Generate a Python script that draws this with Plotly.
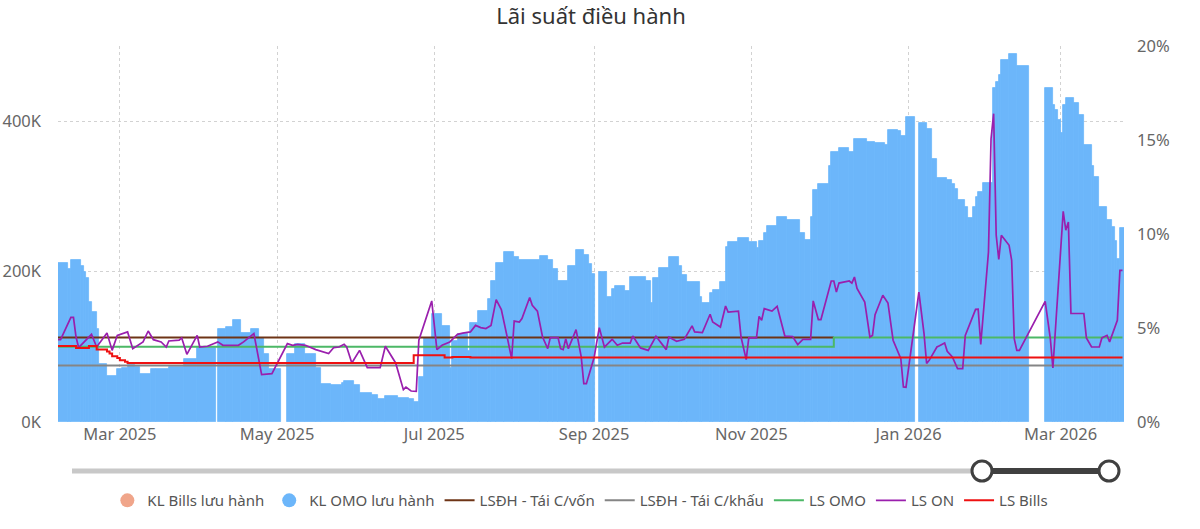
import plotly.graph_objects as go
import pandas as pd

# ---------------- data ----------------
# KL OMO lưu hành (shown as K) — step segments: start date, value (None = no data)
omo_kl_start = [
    "2025-02-05", "2025-02-09", "2025-02-10", "2025-02-14", "2025-02-15", "2025-02-16", "2025-02-17",
    "2025-02-18", "2025-02-20", "2025-02-21", "2025-02-24", "2025-02-28", "2025-03-02", "2025-03-04",
    "2025-03-07", "2025-03-09", "2025-03-13", "2025-03-15", "2025-03-20", "2025-03-26", "2025-03-31",
    "2025-04-07 06:00", "2025-04-08", "2025-04-11", "2025-04-14", "2025-04-17", "2025-04-21", "2025-04-24",
    "2025-04-26", "2025-04-28", "2025-05-02 12:00", "2025-05-04 18:00", "2025-05-08", "2025-05-12",
    "2025-05-16", "2025-05-18", "2025-05-22", "2025-05-26", "2025-05-27", "2025-05-31", "2025-06-02",
    "2025-06-07", "2025-06-09", "2025-06-12", "2025-06-17", "2025-06-21", "2025-06-23", "2025-06-25",
    "2025-06-27", "2025-06-30", "2025-07-04", "2025-07-07", "2025-07-08", "2025-07-10", "2025-07-14",
    "2025-07-15", "2025-07-18", "2025-07-22", "2025-07-23", "2025-07-25", "2025-07-28", "2025-08-01",
    "2025-08-03", "2025-08-11", "2025-08-14", "2025-08-16", "2025-08-18", "2025-08-22", "2025-08-25",
    "2025-08-28", "2025-08-30", "2025-08-31", "2025-09-01 12:00", "2025-09-02 20:00", "2025-09-06",
    "2025-09-08", "2025-09-09", "2025-09-13", "2025-09-15", "2025-09-21", "2025-09-23", "2025-09-24",
    "2025-09-26", "2025-09-30", "2025-10-04", "2025-10-05", "2025-10-07", "2025-10-12", "2025-10-13",
    "2025-10-16", "2025-10-17", "2025-10-20", "2025-10-22", "2025-10-23", "2025-10-27", "2025-10-31",
    "2025-11-03", "2025-11-04", "2025-11-06", "2025-11-07", "2025-11-11", "2025-11-15", "2025-11-20",
    "2025-11-22", "2025-11-24", "2025-11-25", "2025-11-27", "2025-12-01", "2025-12-02", "2025-12-05",
    "2025-12-09", "2025-12-11", "2025-12-16", "2025-12-19", "2025-12-23", "2025-12-24", "2025-12-28",
    "2025-12-29", "2025-12-31", "2026-01-03 10:00", "2026-01-04 22:00", "2026-01-08", "2026-01-10",
    "2026-01-12", "2026-01-16", "2026-01-18", "2026-01-19", "2026-01-20", "2026-01-23", "2026-01-24",
    "2026-01-26", "2026-01-27", "2026-01-28", "2026-01-30", "2026-02-02 18:00", "2026-02-04", "2026-02-05",
    "2026-02-06", "2026-02-09", "2026-02-12", "2026-02-16 14:00", "2026-02-23", "2026-02-26", "2026-02-27",
    "2026-02-28", "2026-03-01", "2026-03-02", "2026-03-03", "2026-03-06", "2026-03-08", "2026-03-10",
    "2026-03-13", "2026-03-14", "2026-03-16", "2026-03-19", "2026-03-21", "2026-03-22", "2026-03-23",
    "2026-03-24",
]
omo_kl_end = "2026-03-26"
omo_kl_val = [
    211, 203, 215, 208, 199, 192, 159,
    146, 124, 77, 61, 70, 72, 76,
    73, 64, 71, 70, 73, 84, 99,
    None, 124, 126, 135, 119, 124, 112,
    90, 70, None, 90, 104, 90,
    72, 50, 49, 52, 55, 49, 39,
    36, 30, 35, 32, 30, 26, 60,
    112, 143, 128, 72, 108, 117, 95,
    132, 148, 164, 188, 212, 226, 219,
    216, 221, 215, 204, 188, 207, 229,
    222, 210, 197, None, 200, 166,
    177, 181, 174, 193, 188, 158, 192,
    205, 220, 207, 195, 186, 166, 158,
    171, 175, 186, 233, 239, 245, 239,
    232, 241, 252, 261, 273, 268, 251,
    242, 272, 308, 316, 341, 359, 365,
    359, 376, 373, 371, 368, 388, 387,
    380, 406, None, 398, 390, 350,
    324, 322, 317, 310, 295, 286, 271,
    286, 299, 306, 318, 444, 452, 462,
    481, 489, 474, None, 444, 421, 415,
    401, 384, 421, 431, 424, 408, 369,
    341, 326, 286, 268, 259, 241, 217,
    258,
]

# LS ON (%)
on_dates = [
    "2025-02-05", "2025-02-06", "2025-02-10", "2025-02-11", "2025-02-12", "2025-02-13", "2025-02-18",
    "2025-02-20", "2025-02-24", "2025-02-26", "2025-02-28", "2025-03-04", "2025-03-06", "2025-03-10",
    "2025-03-12", "2025-03-14", "2025-03-17", "2025-03-19", "2025-03-20", "2025-03-24", "2025-03-25",
    "2025-03-27", "2025-03-31", "2025-04-01", "2025-04-04", "2025-04-08", "2025-04-10", "2025-04-16",
    "2025-04-18", "2025-04-22", "2025-04-25", "2025-04-29", "2025-05-05", "2025-05-07", "2025-05-09",
    "2025-05-12", "2025-05-16", "2025-05-18", "2025-05-21", "2025-05-23", "2025-05-25", "2025-05-27",
    "2025-05-28", "2025-05-30", "2025-06-02", "2025-06-05", "2025-06-10", "2025-06-12", "2025-06-16",
    "2025-06-19", "2025-06-20", "2025-06-22", "2025-06-24", "2025-06-25", "2025-06-30", "2025-07-02",
    "2025-07-04", "2025-07-07", "2025-07-10", "2025-07-12", "2025-07-15", "2025-07-17", "2025-07-19",
    "2025-07-21", "2025-07-23", "2025-07-25", "2025-07-27", "2025-07-29", "2025-07-31", "2025-08-01",
    "2025-08-03", "2025-08-04", "2025-08-07", "2025-08-08", "2025-08-10", "2025-08-12", "2025-08-14",
    "2025-08-15", "2025-08-18", "2025-08-19", "2025-08-20", "2025-08-21", "2025-08-22", "2025-08-25",
    "2025-08-27", "2025-08-28", "2025-08-29", "2025-09-01", "2025-09-03", "2025-09-05", "2025-09-08",
    "2025-09-10", "2025-09-12", "2025-09-15", "2025-09-16", "2025-09-19", "2025-09-22", "2025-09-25",
    "2025-09-29", "2025-09-30", "2025-10-03", "2025-10-06", "2025-10-09", "2025-10-10", "2025-10-13",
    "2025-10-16", "2025-10-17", "2025-10-20", "2025-10-22", "2025-10-23", "2025-10-27", "2025-10-28",
    "2025-10-30", "2025-10-31", "2025-11-03", "2025-11-04", "2025-11-05", "2025-11-06", "2025-11-09",
    "2025-11-11", "2025-11-14", "2025-11-17", "2025-11-19", "2025-11-21", "2025-11-24", "2025-11-25",
    "2025-11-27", "2025-11-28", "2025-12-01", "2025-12-02", "2025-12-03", "2025-12-04", "2025-12-05",
    "2025-12-09", "2025-12-10", "2025-12-11", "2025-12-12", "2025-12-15", "2025-12-17", "2025-12-18",
    "2025-12-19", "2025-12-22", "2025-12-24", "2025-12-26", "2025-12-29", "2025-12-30", "2025-12-31",
    "2026-01-03", "2026-01-05", "2026-01-07", "2026-01-08", "2026-01-09", "2026-01-12", "2026-01-13",
    "2026-01-15", "2026-01-16", "2026-01-18", "2026-01-20", "2026-01-22", "2026-01-23", "2026-01-27",
    "2026-01-28", "2026-01-29", "2026-02-01", "2026-02-02", "2026-02-03", "2026-02-04", "2026-02-05",
    "2026-02-06", "2026-02-09", "2026-02-10", "2026-02-11", "2026-02-12", "2026-02-13", "2026-02-23",
    "2026-02-25", "2026-02-26", "2026-03-02", "2026-03-03", "2026-03-04", "2026-03-05", "2026-03-10",
    "2026-03-11", "2026-03-13", "2026-03-16", "2026-03-17", "2026-03-19", "2026-03-20", "2026-03-23",
    "2026-03-24", "2026-03-25",
]
on_vals = [
    4.38, 4.38, 5.57, 5.57, 4.52, 3.96, 4.66,
    3.99, 4.73, 3.81, 4.61, 4.79, 3.90, 4.26,
    4.84, 4.38, 4.26, 3.99, 4.31, 4.35, 4.47,
    3.60, 4.61, 3.99, 4.03, 4.26, 4.08, 4.08,
    4.26, 4.70, 2.52, 2.57, 4.17, 4.08, 4.13,
    4.08, 3.85, 3.78, 3.64, 3.96, 3.99, 4.13,
    3.99, 3.14, 3.81, 2.89, 2.89, 4.03, 3.14,
    1.72, 1.86, 1.65, 1.63, 4.35, 6.44, 3.85,
    4.08, 4.26, 4.66, 4.73, 4.79, 5.14, 5.02,
    4.97, 5.14, 6.51, 5.98, 4.70, 3.37, 5.37,
    5.32, 5.50, 6.62, 6.21, 5.90, 4.52, 3.90,
    4.49, 4.49, 3.90, 3.85, 4.43, 3.90, 4.91,
    3.46, 2.04, 2.04, 3.43, 5.02, 3.99, 4.40,
    4.08, 4.20, 4.20, 4.57, 3.94, 3.81, 4.56,
    3.85, 4.52, 4.29, 4.40, 5.11, 4.79, 4.76,
    5.73, 5.32, 5.05, 6.17, 5.85, 5.90, 4.52,
    3.32, 4.47, 4.47, 5.62, 5.41, 6.03, 5.90,
    6.15, 4.57, 4.55, 4.12, 4.40, 4.40, 6.44,
    5.45, 5.45, 6.95, 7.50, 7.50, 6.91, 7.39,
    7.50, 7.39, 7.71, 7.10, 6.38, 4.52, 4.60,
    5.71, 6.74, 6.33, 4.35, 3.37, 1.86, 1.85,
    4.79, 6.91, 4.70, 3.11, 3.28, 3.99, 4.05,
    4.20, 3.76, 3.46, 2.84, 2.84, 4.61, 5.99,
    6.00, 4.13, 9.04, 15.07, 16.40, 9.93, 8.65,
    9.93, 9.40, 8.60, 4.43, 3.81, 3.81, 6.42,
    4.43, 2.87, 11.21, 10.20, 10.64, 5.77, 5.77,
    4.47, 3.99, 3.99, 4.47, 4.61, 4.26, 5.41,
    8.07, 8.07,
]

# LS Bills (%) — step changes
bills_dates = ["2025-02-05", "2025-02-12", "2025-02-17", "2025-02-20", "2025-02-24", "2025-02-25",
               "2025-02-26", "2025-02-28", "2025-03-01", "2025-03-03", "2025-03-04", "2025-06-23",
               "2025-07-05", "2025-07-08", "2025-07-15", "2026-03-25"]
bills_vals = [4.04, 3.94, 4.04, 3.85, 3.75, 3.64, 3.50, 3.40, 3.28, 3.20, 3.14, 3.55,
              3.43, 3.46, 3.43, 3.43]

# LSĐH - Tái cấp vốn (%)
refin_dates = ["2025-02-05", "2025-12-03"]
refin_vals = [4.5, 4.5]

# LSĐH - Tái chiết khấu (%)
redisc_dates = ["2025-02-05", "2026-03-25"]
redisc_vals = [3.0, 3.0]

# LS OMO (%)
omo_rate_dates = ["2025-02-05", "2025-12-03", "2026-03-25"]
omo_rate_vals = [4.0, 4.5, 4.5]

x_range = ["2025-02-05", "2026-03-25 14:00"]

# ---------------- styling ----------------
FONT = "Segoe UI, Noto Sans, Open Sans, sans-serif"
C_OMO_KL = "#6cb6fa"
C_BILLS_KL = "#f0a58a"
C_REFIN = "#6e3416"
C_REDISC = "#858585"
C_OMO = "#4cb866"
C_ON = "#9a1fad"
C_BILLS = "#ee1111"

# bar geometry derived from the segment data
starts = pd.to_datetime(omo_kl_start, format="mixed")
ends = list(starts[1:]) + [pd.Timestamp(omo_kl_end)]
bx, bw, bv = [], [], []
for s, e, v in zip(starts, ends, omo_kl_val):
    if v is None:
        continue
    bx.append(s)
    bw.append((e - s).total_seconds() * 1000.0)
    bv.append(v)

fig = go.Figure()

fig.add_trace(go.Bar(
    x=bx, y=bv, width=bw, offset=0,
    marker=dict(color=C_OMO_KL, line=dict(width=0.8, color=C_OMO_KL)),
    name="KL OMO lưu hành", showlegend=False, hoverinfo="skip",
))

# legend-only markers for the volume series (circle symbols as in the reference)
fig.add_trace(go.Scatter(x=[None], y=[None], mode="markers", name="KL Bills lưu hành",
                         marker=dict(color=C_BILLS_KL, size=14, symbol="circle")))
fig.add_trace(go.Scatter(x=[None], y=[None], mode="markers", name="KL OMO lưu hành",
                         marker=dict(color=C_OMO_KL, size=14, symbol="circle")))

fig.add_trace(go.Scatter(x=refin_dates, y=refin_vals, yaxis="y2", mode="lines",
                         name="LSĐH - Tái C/vốn", line=dict(color=C_REFIN, width=2)))
fig.add_trace(go.Scatter(x=redisc_dates, y=redisc_vals, yaxis="y2", mode="lines",
                         name="LSĐH - Tái C/khấu", line=dict(color=C_REDISC, width=2)))
fig.add_trace(go.Scatter(x=omo_rate_dates, y=omo_rate_vals, yaxis="y2", mode="lines",
                         name="LS OMO", line=dict(color=C_OMO, width=2, shape="hv")))
fig.add_trace(go.Scatter(x=on_dates, y=on_vals, yaxis="y2", mode="lines",
                         name="LS ON", line=dict(color=C_ON, width=1.7)))
fig.add_trace(go.Scatter(x=bills_dates, y=bills_vals, yaxis="y2", mode="lines",
                         name="LS Bills", line=dict(color=C_BILLS, width=2, shape="hv")))

grid_col = "#d2d2d2"
fig.update_layout(
    width=1200, height=529,
    margin=dict(l=58, r=76, t=46, b=107, autoexpand=False),
    paper_bgcolor="white", plot_bgcolor="white",
    font=dict(family=FONT, size=16, color="#666666"),
    title=dict(text="Lãi suất điều hành", x=0.5, xref="paper", xanchor="center",
               y=1 - 16 / 529, yref="container", yanchor="middle",
               font=dict(family=FONT, size=22, color="#333333")),
    showlegend=True,
    legend=dict(orientation="h", x=0.49, xanchor="center", y=-0.209, yanchor="middle",
                font=dict(family=FONT, size=15, color="#555555"),
                itemsizing="trace", tracegroupgap=0, itemwidth=30),
    xaxis=dict(type="date", range=x_range, dtick="M2", tick0="2025-01-01",
               tickformat="%b %Y", showgrid=True, gridcolor=grid_col, griddash="dot",
               gridwidth=1, zeroline=False, showline=False, ticks="", automargin=False,
               tickfont=dict(size=16.5, color="#666666")),
    yaxis=dict(range=[0, 500], tickvals=[0, 200, 400], ticktext=["0K", "200K", "400K"],
               showgrid=True, gridcolor=grid_col, griddash="dot", gridwidth=1,
               zeroline=False, showline=False, ticks="", ticklabelstandoff=16,
               automargin=False, tickfont=dict(size=16.5, color="#666666")),
    yaxis2=dict(range=[0, 20], dtick=5, ticksuffix="%", overlaying="y", side="right",
                showgrid=False, zeroline=False, showline=False, ticks="",
                ticklabelstandoff=12, automargin=False,
                tickfont=dict(size=16.5, color="#666666")),
    bargap=0,
)

# decorative zoom slider under the axis (as in the reference)
plot_h = 529 - 46 - 107
y_sl = -(471 - (529 - 107)) / plot_h
x_l = (72 - 58) / 1066
x_h1 = (982 - 58) / 1066
x_h2 = (1109 - 58) / 1066
fig.add_shape(type="line", xref="paper", yref="paper", x0=x_l, x1=x_h1, y0=y_sl, y1=y_sl,
              line=dict(color="#c8c8c8", width=5))
fig.add_shape(type="line", xref="paper", yref="paper", x0=x_h1, x1=x_h2, y0=y_sl, y1=y_sl,
              line=dict(color="#404040", width=6))
for xh in (x_h1, x_h2):
    fig.add_shape(type="circle", xref="paper", yref="paper",
                  xsizemode="pixel", ysizemode="pixel", xanchor=xh, yanchor=y_sl,
                  x0=-10, x1=10, y0=-10, y1=10,
                  line=dict(color="#404040", width=3), fillcolor="white")

fig.write_html("out.html")
